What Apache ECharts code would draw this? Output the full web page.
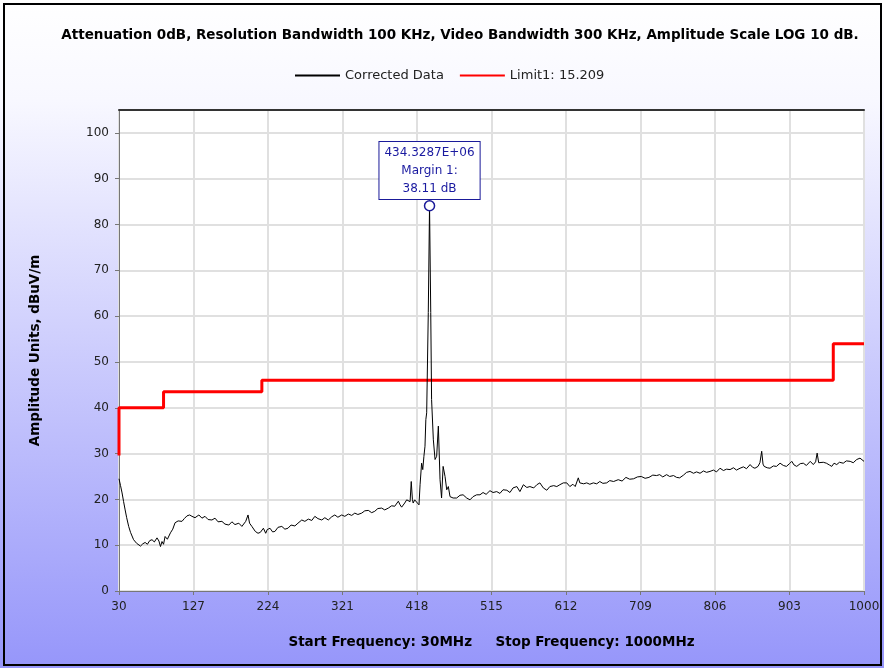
<!DOCTYPE html>
<html>
<head>
<meta charset="utf-8">
<script src="https://cdn.jsdelivr.net/npm/echarts@6/dist/echarts.min.js"></script>
<style>
html, body { margin: 0; padding: 0; background: #fff; }
#chart { width: 884px; height: 668px; }
</style>
</head>
<body>
<div id="chart"></div>
<script>
// 频率 (MHz) 和幅度 (dBuV/m)
var freqs = [30, 32, 34, 36, 38, 40, 42.6, 45, 49, 53, 58, 61, 64, 67, 70, 73, 76, 79.5, 82, 84, 86, 88, 90, 93, 97, 100, 103, 107, 112, 115, 118.5, 122, 125, 129, 134, 138, 142, 146, 151, 155, 159, 164, 168, 173, 177, 181, 186, 190, 192, 195, 198, 200, 203, 207.5, 211, 214, 218, 221, 223, 226.6, 230, 233, 237, 242, 246, 250, 254, 259, 263, 268, 272, 276.5, 281, 285, 289, 294, 298, 302.5, 307, 311, 315, 320, 324, 328.6, 333, 337, 341, 346, 350, 354.6, 359, 363, 367, 372, 376, 380.7, 385, 389, 393.7, 396, 398, 402, 404.6, 406.7, 409, 410.5, 412, 413, 415, 417.6, 420.6, 422, 424, 425.5, 427, 428.4, 429.5, 430.6, 432.7, 434.33, 435.9, 437, 439.3, 441.5, 443.6, 445.8, 448, 450, 452, 454.5, 456.7, 458.8, 461, 465, 469.7, 474, 478, 482.7, 487, 491, 495.7, 500, 504, 508, 513, 517, 521.8, 526, 530, 535, 539, 543, 548, 552, 556.5, 561, 565, 570, 574, 578, 582.5, 587, 591, 596, 600, 604, 608.5, 613, 617, 621, 624, 628, 630, 635, 639, 643, 647.6, 652, 656, 660, 665, 669, 674, 680, 685, 690, 695, 700, 705, 710, 715, 720, 725, 730, 734, 738, 743, 747, 752, 756, 760, 765, 769, 773.5, 778, 782, 786.5, 791, 795, 799.5, 804, 808, 812.5, 817, 821, 825.6, 830, 834, 838.6, 843, 847, 851.7, 855, 858, 862, 864.5, 866.8, 868.5, 870, 874, 877.6, 882, 886, 890.7, 895, 899, 903, 906, 909, 912.4, 917, 921, 925, 930, 934, 937, 939, 941, 943, 947, 951, 955, 958, 961, 964.5, 968, 973, 977, 982, 986, 990.5, 994.8, 997, 1000];
var amps = [24.5, 23.0, 21.4, 19.5, 17.7, 16.0, 14.1, 12.8, 11.2, 10.4, 9.8, 10.3, 10.6, 10.2, 11.0, 11.2, 10.7, 11.6, 10.9, 9.7, 10.8, 10.2, 11.9, 11.3, 12.7, 13.5, 14.9, 15.3, 15.2, 15.8, 16.4, 16.6, 16.3, 16.0, 16.6, 15.9, 16.3, 15.6, 15.5, 15.9, 15.1, 15.2, 14.6, 14.4, 15.1, 14.5, 14.8, 14.1, 14.4, 15.2, 16.6, 14.8, 14.1, 13.0, 12.6, 12.8, 13.7, 12.6, 13.4, 13.7, 12.9, 13.0, 13.9, 14.1, 13.5, 13.7, 14.4, 14.2, 14.8, 15.5, 15.2, 15.7, 15.4, 16.3, 15.8, 15.5, 16.0, 15.5, 16.2, 16.6, 16.1, 16.6, 16.3, 16.8, 16.5, 17.0, 16.7, 17.0, 17.5, 17.6, 17.1, 17.4, 18.0, 18.1, 17.7, 18.1, 18.6, 18.5, 19.6, 18.8, 18.3, 19.2, 19.9, 20.3, 19.5, 23.9, 20.0, 19.2, 19.9, 19.6, 18.8, 23.2, 27.9, 26.5, 29.4, 31.6, 37.4, 38.9, 60.8, 84.11, 60.8, 41.8, 33.0, 28.7, 29.4, 36.0, 24.3, 20.3, 27.2, 25.0, 22.1, 22.8, 20.6, 20.3, 20.3, 20.9, 21.0, 20.3, 19.9, 20.6, 21.0, 21.0, 21.5, 21.1, 21.9, 21.5, 21.7, 21.3, 22.1, 22.0, 21.5, 22.5, 22.8, 21.7, 23.2, 22.6, 22.8, 22.5, 23.2, 23.6, 22.5, 22.0, 22.8, 23.0, 22.8, 23.2, 23.6, 23.6, 22.8, 23.3, 22.8, 24.7, 23.6, 23.4, 23.6, 23.3, 23.6, 23.4, 23.9, 23.5, 23.6, 24.1, 23.9, 24.3, 24.0, 24.8, 24.4, 24.5, 24.9, 25.0, 24.6, 24.8, 25.3, 25.2, 25.4, 24.9, 25.4, 25.0, 25.2, 24.8, 24.7, 25.3, 25.9, 26.1, 25.7, 26.0, 25.7, 26.2, 25.9, 26.1, 26.4, 26.0, 26.8, 26.3, 26.6, 26.5, 26.9, 26.4, 26.8, 27.1, 26.7, 27.6, 27.0, 26.8, 27.2, 28.0, 30.5, 27.7, 27.2, 26.9, 26.8, 27.3, 27.2, 27.9, 27.4, 27.2, 27.8, 28.3, 27.5, 27.2, 27.8, 27.9, 27.4, 28.3, 27.6, 28.2, 30.1, 28.0, 27.6, 28.1, 27.9, 27.5, 27.2, 27.9, 27.6, 28.1, 27.9, 28.4, 28.3, 28.0, 28.7, 29.0, 28.6, 28.3];

// 限值线 (阶梯)
var limitFreqs = [30, 30, 88, 88, 216, 216, 960, 960, 1000];
var limitVals = [29.6, 40, 40, 43.5, 43.5, 46, 46, 54, 54];

var startFreq = 30; //横轴偏移, 让刻度从0开始
var peakFreq = 434.33;
var peakAmp = 84.11;

var font = "DejaVu Sans";

function toPairs(xs, ys) {
    var arr = [];
    for (var i = 0; i < xs.length; i++) {
        arr.push([xs[i] - startFreq, ys[i]]);
    }
    return arr;
}

var chart = echarts.init(document.getElementById("chart"));

var option = {
    animation: false,
    backgroundColor: new echarts.graphic.LinearGradient(0, 0, 0, 1, [
        { offset: 0, color: "#ffffff" },
        { offset: 0.15, color: "#f8f8ff" },
        { offset: 1, color: "#9696fa" }
    ]),
    title: {
        text: "Attenuation 0dB, Resolution Bandwidth 100 KHz, Video Bandwidth 300 KHz, Amplitude Scale LOG 10 dB.",
        left: 455,
        top: 23,
        textAlign: "center",
        textStyle: { fontFamily: font, fontSize: 13.5, fontWeight: "bold", color: "#000" }
    },
    legend: {
        top: 64,
        left: 289,
        itemWidth: 45,
        itemHeight: 10,
        itemGap: 15,
        itemStyle: { opacity: 0 },
        textStyle: { fontFamily: font, fontSize: 13, color: "#222" },
        data: ["Corrected Data", "Limit1: 15.209"]
    },
    graphic: [{
        type: "rect",
        shape: { x: 4, y: 4, width: 877, height: 661 },
        style: { fill: "none", stroke: "#000", lineWidth: 2 },
        silent: true
    }],
    grid: {
        left: 119,
        right: 20,
        top: 110,
        bottom: 77,
        show: true,
        backgroundColor: "#fff",
        borderWidth: 0
    },
    xAxis: [{
        type: "value",
        min: 0,
        max: 970,
        interval: 97,
        name: "Start Frequency: 30MHz     Stop Frequency: 1000MHz",
        nameLocation: "middle",
        nameGap: 44,
        nameTextStyle: { fontFamily: font, fontSize: 13.5, fontWeight: "bold", color: "#000" },
        axisLine: { lineStyle: { color: "#777", width: 1 } },
        axisTick: { show: true, length: 4, lineStyle: { color: "#777" } },
        axisLabel: {
            fontFamily: font, fontSize: 12, color: "#222", margin: 10,
            formatter: function (v) { return String(v + startFreq); }
        },
        splitLine: { show: true, lineStyle: { color: "#e0e0e0", width: 2 } }
    }, {
        type: "value",
        position: "top",
        min: 0,
        max: 970,
        axisLine: { show: true, lineStyle: { color: "#333", width: 2 } },
        axisTick: { show: false },
        axisLabel: { show: false },
        splitLine: { show: false }
    }],
    yAxis: {
        type: "value",
        min: 0,
        max: 105,
        interval: 10,
        name: "Amplitude Units, dBuV/m",
        nameLocation: "middle",
        nameGap: 77,
        nameTextStyle: { fontFamily: font, fontSize: 13.5, fontWeight: "bold", color: "#000" },
        axisLine: { show: true, lineStyle: { color: "#777", width: 1 } },
        axisTick: { show: true, length: 4, lineStyle: { color: "#777" } },
        axisLabel: { fontFamily: font, fontSize: 12, color: "#222", margin: 10, showMaxLabel: false },
        splitLine: { show: true, lineStyle: { color: "#e0e0e0", width: 2 } }
    },
    series: [{
        name: "Corrected Data",
        type: "line",
        symbol: "none",
        data: toPairs(freqs, amps),
        lineStyle: { color: "#000", width: 1 },
        itemStyle: { color: "#000" },
        z: 4,
        markPoint: {
            symbol: "circle",
            symbolSize: 10,
            itemStyle: { color: "#fff", borderColor: "#1a1a99", borderWidth: 1.5 },
            label: {
                show: true,
                position: "top",
                distance: 1,
                formatter: "434.3287E+06\nMargin 1:\n38.11 dB",
                fontFamily: font,
                fontSize: 12,
                lineHeight: 18,
                color: "#1a1aa0",
                backgroundColor: "#fff",
                borderColor: "#1a1a99",
                borderWidth: 1,
                padding: [2, 5, 1, 5],
                align: "center"
            },
            data: [{ coord: [peakFreq - startFreq, peakAmp] }]
        }
    }, {
        name: "Limit1: 15.209",
        type: "line",
        symbol: "none",
        data: toPairs(limitFreqs, limitVals),
        lineStyle: { color: "#ff0000", width: 3 },
        itemStyle: { color: "#ff0000" },
        z: 3
    }]
};

chart.setOption(option);
</script>
</body>
</html>
